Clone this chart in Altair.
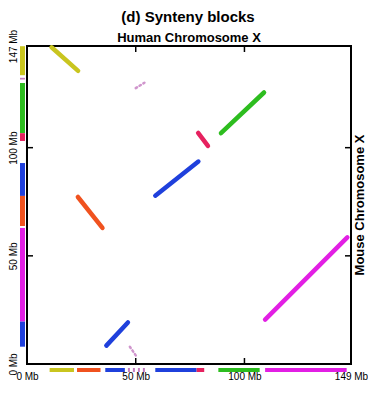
import altair as alt
import pandas as pd

# ---- synteny blocks (human position on x, mouse position on y, in Mb) ----
block_color = ["yellow", "orange", "blue", "pink", "pink", "blue", "crimson", "green", "magenta"]
human_start = [11.3, 23.4, 36.5, 47.3, 50.0, 59.0, 78.7, 89.2, 109.5]
human_end = [23.5, 34.7, 46.4, 50.0, 54.0, 78.8, 83.2, 109.0, 147.3]
mouse_start = [146.4, 77.2, 8.5, 8.0, 127.5, 77.8, 106.8, 106.7, 20.5]
mouse_end = [135.5, 62.9, 19.2, 4.0, 130.0, 93.6, 100.8, 125.5, 58.5]

# ---- margin tracks ----
human_track_color = ["yellow", "orange", "blue", "pink", "blue", "crimson", "green", "magenta"]
human_track_start = [10.4, 23.0, 36.0, 46.4, 59.0, 78.0, 88.0, 109.5]
human_track_end = [21.6, 33.8, 45.0, 54.5, 78.0, 81.5, 107.0, 147.0]

mouse_track_color = ["yellow", "pink", "green", "crimson", "blue", "orange", "magenta", "blue"]
mouse_track_start = [133.5, 131.5, 106.7, 103.1, 77.7, 63.8, 19.6, 8.0]
mouse_track_end = [146.9, 132.3, 129.9, 106.7, 92.9, 77.7, 62.9, 19.6]

x_tick_values = [0, 50, 100, 149]
y_tick_values = [0, 50, 100, 147]
inner_x_ticks = [50, 100]
inner_y_ticks = [50, 100]

color_names = ["yellow", "orange", "blue", "pink", "crimson", "green", "magenta"]
color_hex = ["#c9c51f", "#f0521f", "#1f40dc", "#c47cc0", "#e6215f", "#2dbd1f", "#e21fe4"]

main_title = ["(d) Synteny blocks"]
top_title = ["Human Chromosome X"]
right_title = ["Mouse Chromosome X"]

blocks = pd.DataFrame({"hs": human_start, "he": human_end, "ms": mouse_start,
                       "me": mouse_end, "color": block_color})
htrack = pd.DataFrame({"start": human_track_start, "end": human_track_end,
                       "color": human_track_color})
mtrack = pd.DataFrame({"start": mouse_track_start, "end": mouse_track_end,
                       "color": mouse_track_color})
xt = pd.DataFrame({"v": inner_x_ticks})
yt = pd.DataFrame({"v": inner_y_ticks})

W, H = 324, 318
FONT = "Liberation Sans"

xs = alt.Scale(domain=[0, 149], nice=False, zero=False)
ys = alt.Scale(domain=[0, 147], nice=False, zero=False)
cs = alt.Scale(domain=color_names, range=color_hex)

x_axis = alt.Axis(values=x_tick_values, labelExpr="datum.value + ' Mb'", ticks=False,
                  domain=False, grid=False, labelFlush=False, labelPadding=7,
                  labelFontSize=10, labelFont=FONT, labelColor="black")
y_axis = alt.Axis(values=y_tick_values, labelExpr="datum.value + ' Mb'", ticks=False,
                  domain=False, grid=False, labelFlush=False, labelAngle=270,
                  labelAlign="center", labelBaseline="bottom", labelPadding=9,
                  labelFontSize=10, labelFont=FONT, labelColor="black")
col = alt.Color("color:N", scale=cs, legend=None)

solid = alt.Chart(blocks).transform_filter("datum.color != 'pink'").mark_rule(
    strokeWidth=4.5, strokeCap="round").encode(
    x=alt.X("hs:Q", scale=xs, axis=x_axis, title=None), x2="he:Q",
    y=alt.Y("ms:Q", scale=ys, axis=y_axis, title=None), y2="me:Q", color=col)

dotted = alt.Chart(blocks).transform_filter("datum.color == 'pink'").mark_rule(
    strokeWidth=2.5, strokeCap="round", strokeDash=[1.5, 3], opacity=0.8).encode(
    x=alt.X("hs:Q", scale=xs, axis=x_axis, title=None), x2="he:Q",
    y=alt.Y("ms:Q", scale=ys, axis=y_axis, title=None), y2="me:Q", color=col)

htr = alt.Chart(htrack).mark_rule(strokeWidth=4).encode(
    x=alt.X("start:Q", scale=xs, axis=x_axis, title=None), x2="end:Q",
    y=alt.value(H + 6), color=col,
    strokeDash=alt.condition("datum.color == 'pink'", alt.value([2, 3]), alt.value([1, 0])))

mtr = alt.Chart(mtrack).mark_rule(strokeWidth=5).encode(
    y=alt.Y("start:Q", scale=ys, axis=y_axis, title=None), y2="end:Q",
    x=alt.value(-4.5), color=col)

top_ticks = alt.Chart(xt).mark_rule(color="black", strokeWidth=1.5).encode(
    x=alt.X("v:Q", scale=xs, axis=x_axis, title=None), y=alt.value(0), y2=alt.value(6))
bottom_ticks = alt.Chart(xt).mark_rule(color="black", strokeWidth=1.5).encode(
    x=alt.X("v:Q", scale=xs, axis=x_axis, title=None), y=alt.value(H), y2=alt.value(H - 6))
left_ticks = alt.Chart(yt).mark_rule(color="black", strokeWidth=1.5).encode(
    y=alt.Y("v:Q", scale=ys, axis=y_axis, title=None), x=alt.value(0), x2=alt.value(6))
right_ticks = alt.Chart(yt).mark_rule(color="black", strokeWidth=1.5).encode(
    y=alt.Y("v:Q", scale=ys, axis=y_axis, title=None), x=alt.value(W), x2=alt.value(W - 6))

title_mark = alt.Chart(pd.DataFrame({"t": main_title})).mark_text(
    font=FONT, fontSize=15, fontWeight="bold", color="black",
    align="center", baseline="middle").encode(
    text="t:N", x=alt.value(W / 2 - 1), y=alt.value(-29))

top_label = alt.Chart(pd.DataFrame({"t": top_title})).mark_text(
    font=FONT, fontSize=13, fontWeight="bold", color="black",
    align="center", baseline="middle").encode(
    text="t:N", x=alt.value(W / 2), y=alt.value(-8))

right_label = alt.Chart(pd.DataFrame({"t": right_title})).mark_text(
    angle=270, font=FONT, fontSize=13, fontWeight="bold", color="black",
    align="center", baseline="middle").encode(
    text="t:N", x=alt.value(W + 9), y=alt.value(H / 2))

chart = alt.layer(solid, dotted, htr, mtr, top_ticks, bottom_ticks, left_ticks,
                  right_ticks, title_mark, top_label, right_label).properties(
    width=W, height=H,
    autosize=alt.AutoSizeParams(type="none"),
    padding={"left": 19, "top": 38, "right": 17, "bottom": 16},
).configure_view(stroke="black", strokeWidth=2)

chart.save("out.html", embed_options={"renderer": "svg", "actions": False})
